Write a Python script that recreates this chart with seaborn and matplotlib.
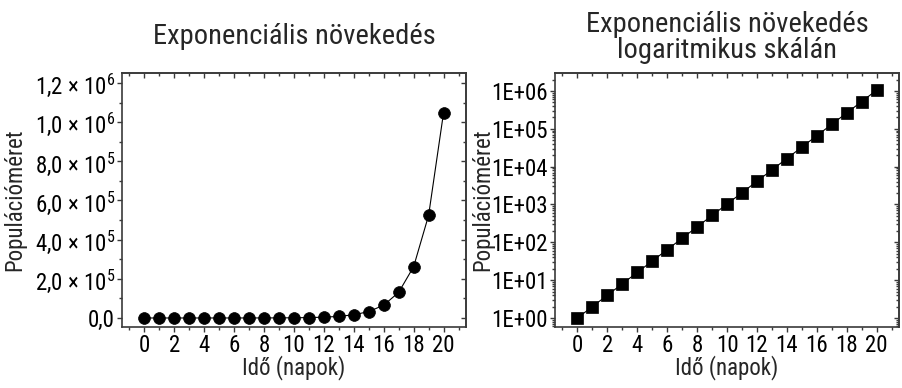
import numpy as np
import pandas as pd
import matplotlib
matplotlib.use("Agg")
import matplotlib.pyplot as plt
import seaborn as sns
from matplotlib.ticker import MultipleLocator, LogLocator, FuncFormatter, NullFormatter

# ---- data ----
days = [0, 1, 2, 3, 4, 5, 6, 7, 8, 9, 10, 11, 12, 13, 14, 15, 16, 17, 18, 19, 20]
population = [1, 2, 4, 8, 16, 32, 64, 128, 256, 512, 1024, 2048, 4096, 8192,
              16384, 32768, 65536, 131072, 262144, 524288, 1048576]
title_left = "Exponenciális növekedés"
title_right = "Exponenciális növekedés\nlogaritmikus skálán"
xlabel = "Idő (napok)"
ylabel = "Populációméret"

df = pd.DataFrame({"day": days, "pop": population})

sns.set_theme(style="ticks")
FONT = "Roboto Condensed"
plt.rcParams["font.family"] = [FONT, "DejaVu Sans"]
plt.rcParams["mathtext.fontset"] = "custom"
plt.rcParams["mathtext.rm"] = FONT
plt.rcParams["mathtext.it"] = FONT
plt.rcParams["mathtext.bf"] = FONT

SPINE = "#3a3a3a"
TICK_FS = 16.5
LABEL_FS = 16.5
TITLE_FS = 20.5

fig = plt.figure(figsize=(9.02, 3.88), dpi=100)
W, H = 902, 388
ax1 = fig.add_axes([122 / W, 1 - 327 / H, 344 / W, 254 / H])
ax2 = fig.add_axes([555 / W, 1 - 327 / H, 344 / W, 254 / H])


def sci_fmt(v, pos):
    if abs(v) < 1e-9:
        return "0,0"
    e = int(np.floor(np.log10(abs(v)) + 1e-9))
    m = v / 10 ** e
    return f"{m:.1f}".replace(".", ",") + r" × 10$^{" + str(e) + "}$"


def log_fmt(v, pos):
    e = int(round(np.log10(v)))
    return f"1E+{e:02d}"


sns.lineplot(data=df, x="day", y="pop", ax=ax1, color="black", linewidth=0.8,
             marker="o", markersize=8.5, markeredgecolor="black", markeredgewidth=0.5)
sns.lineplot(data=df, x="day", y="pop", ax=ax2, color="black", linewidth=0.8,
             marker="s", markersize=8.5, markeredgecolor="black", markeredgewidth=0.5)
ax2.set_yscale("log")

for ax in (ax1, ax2):
    ax.set_xlim(-1.5, 21.5)
    ax.xaxis.set_major_locator(MultipleLocator(2))
    ax.xaxis.set_minor_locator(MultipleLocator(1))
    ax.tick_params(which="both", direction="out", colors=SPINE, labelcolor="black",
                   labelsize=TICK_FS, pad=1.5, width=1.0)
    ax.tick_params(which="major", length=3.5)
    ax.tick_params(which="minor", length=2.0)
    for s in ax.spines.values():
        s.set_color(SPINE)
        s.set_linewidth(1.2)
    ax.set_xlabel(xlabel, fontsize=LABEL_FS)
    ax.set_ylabel(ylabel, fontsize=LABEL_FS)
    ax.xaxis.set_label_coords(0.5, -0.11)

ax1.set_ylim(-46000, 1.251e6)
ax1.yaxis.set_major_locator(MultipleLocator(2e5))
ax1.yaxis.set_minor_locator(MultipleLocator(1e5))
ax1.yaxis.set_major_formatter(FuncFormatter(sci_fmt))
ax1.yaxis.set_label_coords(-0.279, 0.5)

ax2.set_ylim(0.578, 2.99e6)
ax2.yaxis.set_major_locator(LogLocator(base=10, numticks=20))
ax2.yaxis.set_minor_locator(LogLocator(base=10, subs=np.arange(2, 10), numticks=20))
ax2.yaxis.set_major_formatter(FuncFormatter(log_fmt))
ax2.yaxis.set_minor_formatter(NullFormatter())
ax2.yaxis.set_label_coords(-0.177, 0.5)

# mirrored inward ticks on top / right
for ax, logy in ((ax1, False), (ax2, True)):
    sx = ax.secondary_xaxis("top")
    sx.xaxis.set_major_locator(MultipleLocator(2))
    sx.xaxis.set_minor_locator(MultipleLocator(1))
    sx.tick_params(which="both", direction="in", colors=SPINE, labeltop=False, width=1.0)
    sx.tick_params(which="major", length=3.5)
    sx.tick_params(which="minor", length=2.0)
    sy = ax.secondary_yaxis("right")
    if logy:
        sy.yaxis.set_major_locator(LogLocator(base=10, numticks=20))
        sy.yaxis.set_minor_locator(LogLocator(base=10, subs=np.arange(2, 10), numticks=20))
        sy.yaxis.set_minor_formatter(NullFormatter())
    else:
        sy.yaxis.set_major_locator(MultipleLocator(2e5))
        sy.yaxis.set_minor_locator(MultipleLocator(1e5))
    sy.tick_params(which="both", direction="in", colors=SPINE, labelright=False, width=1.0)
    sy.tick_params(which="major", length=3.5)
    sy.tick_params(which="minor", length=2.0)
    for sec in (sx, sy):
        for s in sec.spines.values():
            s.set_color(SPINE)
            s.set_linewidth(1.2)

ax1.set_title(title_left, fontsize=TITLE_FS, pad=21)
ax2.set_title(title_right, fontsize=TITLE_FS, pad=11, linespacing=0.95)

fig.savefig("out.png", dpi=100)
